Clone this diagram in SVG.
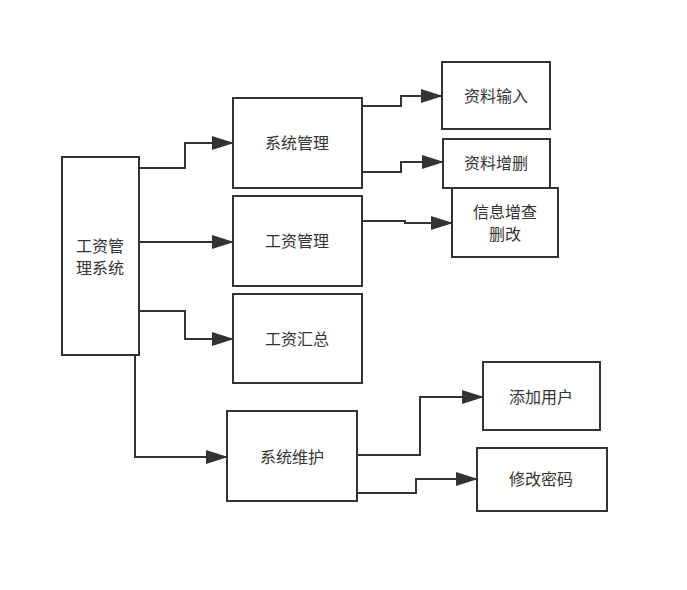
<svg xmlns="http://www.w3.org/2000/svg" width="687" height="590" viewBox="0 0 687 590">
<style>
.box{fill:#fff;stroke:#333;stroke-width:2}
.t{font-family:"Liberation Sans","Noto Sans CJK SC",sans-serif;font-size:16px;fill:#333;text-anchor:middle;dominant-baseline:central}
.c{fill:none;stroke:#333;stroke-width:2;marker-end:url(#a)}
</style>
<defs>
<marker id="a" markerWidth="11" markerHeight="7" refX="10" refY="3.5" orient="auto" markerUnits="strokeWidth">
<path d="M0,0 L11,3.5 L0,7 Z" fill="#333"/>
</marker>
</defs>
<rect width="687" height="590" fill="#fff"/>
<g id="connectors">
<path class="c" d="M139,168 H185 V143 H232"/>
<path class="c" d="M139,242 H232"/>
<path class="c" d="M139,311 H185 V339 H232"/>
<path class="c" d="M135,355 V457 H226"/>
<path class="c" d="M362,106 H401 V96 H441"/>
<path class="c" d="M362,172 H401 V162 H442"/>
<path class="c" d="M362,221 H405 V223 H451"/>
<path class="c" d="M357,455 H420 V397 H482"/>
<path class="c" d="M357,493 H416 V479 H476"/>
</g>
<g id="n-main"><rect class="box" x="62" y="157" width="77" height="198"/><text class="t" x="100" y="246">工资管</text><text class="t" x="100" y="268">理系统</text></g>
<g id="n-xtgl"><rect class="box" x="233" y="98" width="129" height="90"/><text class="t" x="297" y="143">系统管理</text></g>
<g id="n-gzgl"><rect class="box" x="233" y="196" width="129" height="90"/><text class="t" x="297" y="241">工资管理</text></g>
<g id="n-gzhz"><rect class="box" x="233" y="294" width="129" height="89"/><text class="t" x="297" y="339">工资汇总</text></g>
<g id="n-xtwh"><rect class="box" x="227" y="411" width="130" height="90"/><text class="t" x="292" y="457">系统维护</text></g>
<g id="n-zlsr"><rect class="box" x="442" y="62" width="108" height="67"/><text class="t" x="496" y="96">资料输入</text></g>
<g id="n-zlzs"><rect class="box" x="443" y="139" width="107" height="49"/><text class="t" x="496" y="163">资料增删</text></g>
<g id="n-xxzc"><rect class="box" x="452" y="188" width="106" height="69"/><text class="t" x="505" y="212">信息增查</text><text class="t" x="505" y="234">删改</text></g>
<g id="n-tjyh"><rect class="box" x="483" y="362" width="117" height="68"/><text class="t" x="541" y="397">添加用户</text></g>
<g id="n-xgmm"><rect class="box" x="477" y="448" width="130" height="63"/><text class="t" x="541" y="479">修改密码</text></g>
</svg>
